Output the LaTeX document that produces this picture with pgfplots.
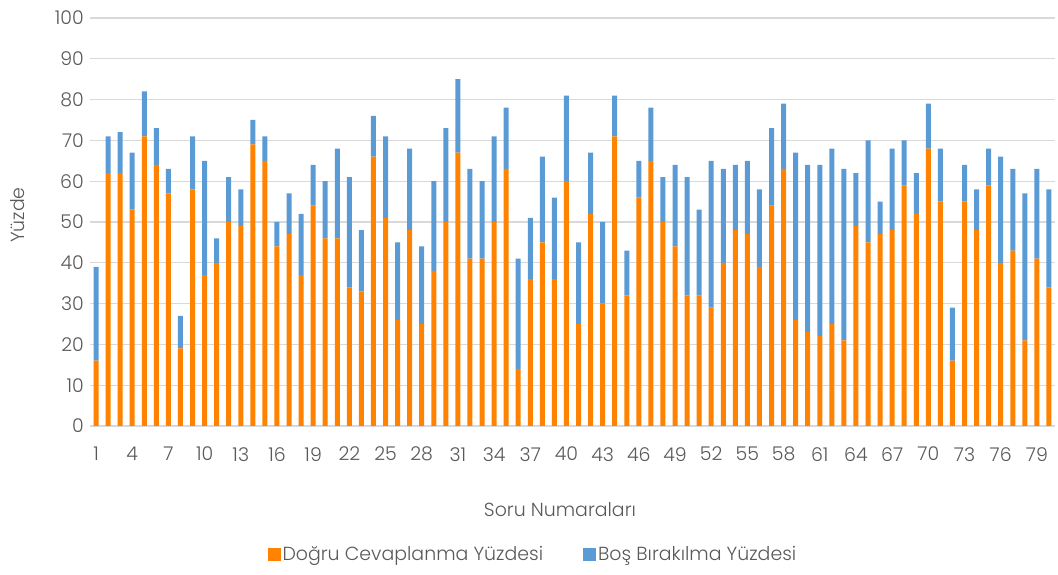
\documentclass[border=0pt]{standalone}
\usepackage{pgfplots}
\usepackage{pgfplotstable}
\pgfplotsset{compat=1.18}
\usepackage{fontspec}
\setmainfont{Poppins Light}
\definecolor{dorange}{RGB}{255,130,0}
\definecolor{bblue}{RGB}{91,155,213}
\definecolor{gridc}{RGB}{217,217,217}
\definecolor{txt}{RGB}{89,89,89}
\pgfplotstableread{
x d b
1 16 23
2 62 9
3 62 10
4 53 14
5 71 11
6 64 9
7 57 6
8 19 8
9 58 13
10 37 28
11 40 6
12 50 11
13 49 9
14 69 6
15 65 6
16 44 6
17 47 10
18 37 15
19 54 10
20 46 14
21 46 22
22 34 27
23 33 15
24 66 10
25 51 20
26 26 19
27 48 20
28 25 19
29 38 22
30 50 23
31 67 18
32 41 22
33 41 19
34 50 21
35 63 15
36 14 27
37 36 15
38 45 21
39 36 20
40 60 21
41 25 20
42 52 15
43 30 20
44 71 10
45 32 11
46 56 9
47 65 13
48 50 11
49 44 20
50 32 29
51 32 21
52 29 36
53 40 23
54 48 16
55 47 18
56 39 19
57 54 19
58 63 16
59 26 41
60 23 41
61 22 42
62 25 43
63 21 42
64 49 13
65 45 25
66 47 8
67 48 20
68 59 11
69 52 10
70 68 11
71 55 13
72 16 13
73 55 9
74 48 10
75 59 9
76 40 26
77 43 20
78 21 36
79 41 22
80 34 24
}\data
\begin{document}
\fontsize{19}{23}\selectfont
\begin{tikzpicture}[x=1bp,y=1bp]
\useasboundingbox (0,0) rectangle (1058,575);
\begin{axis}[
  at={(90bp,149bp)}, anchor=south west,
  scale only axis, width=965bp, height=408bp,
  ybar stacked, bar width=5bp,
  xmin=0.5, xmax=80.5, ymin=0, ymax=100,
  xtick={1,4,...,79}, ytick={0,10,...,100},
  major tick length=0pt,
  axis line style={draw=none},
  ymajorgrids, grid style={gridc, line width=1.2bp},
  /pgf/number format/assume math mode=true,
  tick label style={font=\fontsize{19}{23}\selectfont, text=txt},
  yticklabel style={inner sep=0pt, xshift=-6bp},
  xticklabel style={inner sep=0pt, yshift=-21bp},
  xlabel={Soru Numaraları}, ylabel={Yüzde},
  label style={font=\fontsize{19}{23}\selectfont, text=txt},
  xlabel style={at={(axis description cs:0.487,-0.206)}, anchor=center},
  ylabel style={at={(axis description cs:-0.0746,0.517)}, anchor=center},
  legend style={draw=none, at={(axis description cs:0.459,-0.316)}, anchor=center,
    legend columns=2, font=\fontsize{19}{23}\selectfont, text=txt,
    /tikz/every even column/.append style={column sep=38bp},
    inner sep=0pt, nodes={inner sep=2bp}},
  legend image code/.code={\fill[#1] (0bp,-6.5bp) rectangle (13bp,6.5bp);},
  legend cell align=left,
]
\addplot[fill=dorange, draw=none] table[x=x,y=d] {\data};
\addplot[fill=bblue, draw=none] table[x=x,y=b] {\data};
\legend{Doğru Cevaplanma Yüzdesi, Boş Bırakılma Yüzdesi}
\end{axis}
\end{tikzpicture}
\end{document}
